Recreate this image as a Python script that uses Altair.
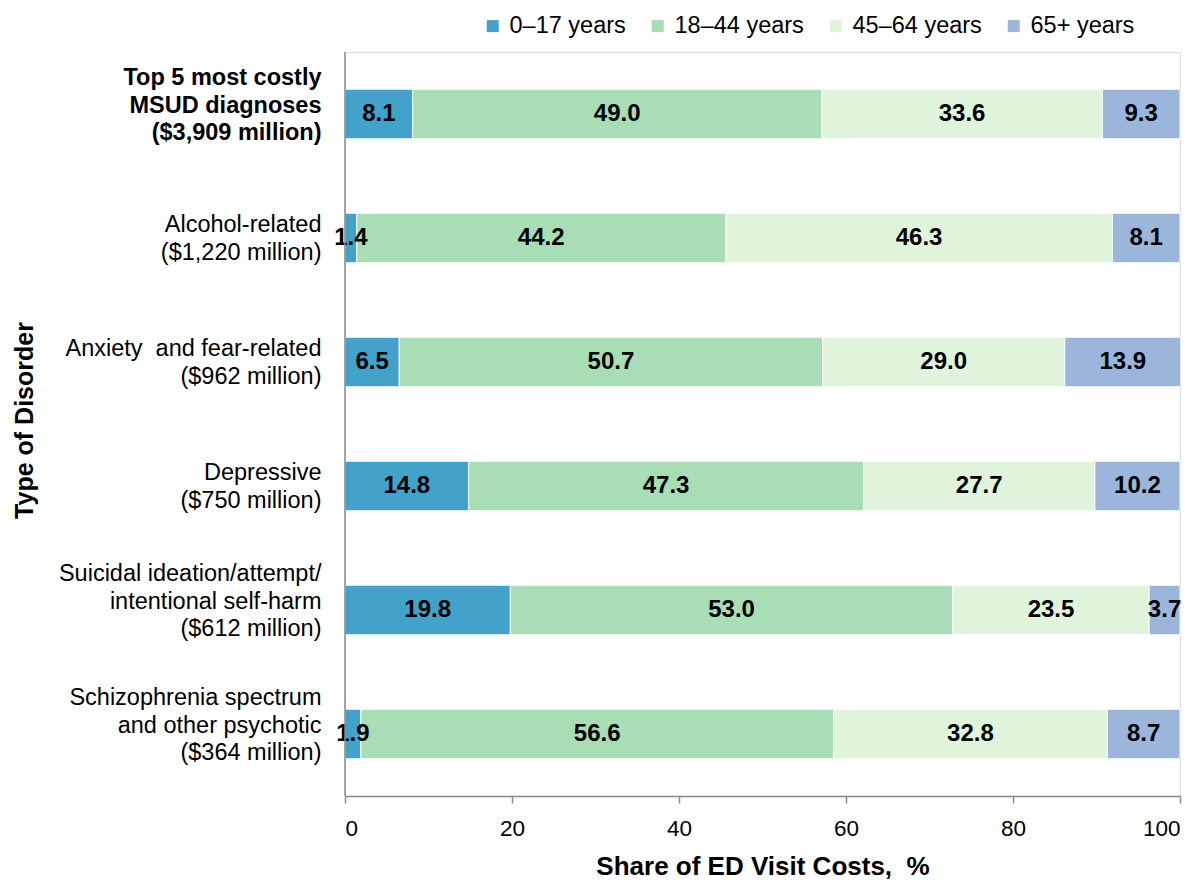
import altair as alt
import pandas as pd

categories = [
    "Top 5 most costly|MSUD diagnoses|($3,909 million)",
    "Alcohol-related|($1,220 million)",
    "Anxiety\u00a0 and fear-related|($962 million)",
    "Depressive|($750 million)",
    "Suicidal ideation/attempt/|intentional self-harm|($612 million)",
    "Schizophrenia spectrum|and other psychotic|($364 million)",
]
age_groups = ["0–17 years", "18–44 years", "45–64 years", "65+ years"]
share_0_17 = [8.1, 1.4, 6.5, 14.8, 19.8, 1.9]
share_18_44 = [49.0, 44.2, 50.7, 47.3, 53.0, 56.6]
share_45_64 = [33.6, 46.3, 29.0, 27.7, 23.5, 32.8]
share_65p = [9.3, 8.1, 13.9, 10.2, 3.7, 8.7]
colors = ["#43A2CA", "#A8DDB5", "#E0F3DB", "#9BB6DA"]
x_ticks = [0, 20, 40, 60, 80, 100]

series = [share_0_17, share_18_44, share_45_64, share_65p]
rows = []
for i, c in enumerate(categories):
    for j, g in enumerate(age_groups):
        rows.append({"cat": c, "group": g, "order": j, "value": series[j][i]})
df = pd.DataFrame(rows)

FONT = "Liberation Sans"
W, H = 835, 744

base = (
    alt.Chart(df)
    .transform_stack(stack="value", as_=["x0", "x1"], groupby=["cat"],
                     sort=[alt.SortField("order", order="ascending")])
    .transform_calculate(mid="(datum.x0 + datum.x1) / 2")
)

yscale = alt.Scale(paddingInner=0.6, paddingOuter=0.3)

bars = base.mark_bar(stroke="white", strokeWidth=1).encode(
    x=alt.X("x0:Q", scale=alt.Scale(domain=[0, 100], nice=False),
            axis=alt.Axis(values=x_ticks, grid=False, domainColor="#888888",
                          domainWidth=1.5, tickColor="#888888", tickWidth=1.5,
                          tickSize=7, labelFontSize=22.5, labelColor="black",
                          labelPadding=14, labelFont=FONT,
                          title="Share of ED Visit Costs,\u00a0 %", titleFontSize=26,
                          titleFontWeight="bold", titleFont=FONT, titleColor="black",
                          titleY=70, titleBaseline="middle")),
    x2="x1:Q",
    y=alt.Y("cat:N", sort=categories, scale=yscale,
            axis=alt.Axis(domain=False, ticks=False, labelExpr="split(datum.value, '|')",
                          labelFontSize=23.5, labelLineHeight=27.5, labelPadding=24,
                          labelLimit=500, labelColor="black", labelFont=FONT,
                          labelFontWeight=alt.ConditionalAxisLabelFontWeight(
                              condition={"test": "indexof(datum.value, 'Top 5') == 0", "value": "bold"},
                              value="normal"),
                          labelOffset={"condition": {"test": "length(split(datum.value, '|')) > 2", "value": -36}, "value": -13},
                          title="Type of Disorder", titleFontSize=25, titleFontWeight="bold",
                          titleFont=FONT, titleColor="black", titleAngle=270,
                          titleX=-321, titleY=368, titleAlign="center", titleBaseline="middle")),
    color=alt.Color("group:N", scale=alt.Scale(domain=age_groups, range=colors),
                    legend=alt.Legend(title=None, orient="none", direction="horizontal",
                                      columns=4, legendX=136, legendY=-38,
                                      symbolType="square", symbolSize=144,
                                      symbolStrokeWidth=0, labelFontSize=23.5,
                                      labelFont=FONT, labelColor="black",
                                      labelOffset=5, columnPadding=20, padding=0)),
    order=alt.Order("order:Q"),
)

labels = base.mark_text(fontWeight="bold", fontSize=24, font=FONT, color="black").encode(
    x="mid:Q",
    y=alt.Y("cat:N", sort=categories),
    text=alt.Text("value:Q", format=".1f"),
)

yline = alt.Chart(pd.DataFrame({"a": [0]})).mark_rule(color="#888888", strokeWidth=1.5).encode(
    x=alt.value(0), y=alt.value(0), y2=alt.value(H)
)

chart = (
    alt.layer(bars, labels, yline)
    .properties(width=W, height=H,
                autosize=alt.AutoSizeParams(type="none"),
                padding={"left": 337, "top": 44, "right": 14, "bottom": 90})
    .configure_view(strokeWidth=0, stroke="transparent")
    .configure(font=FONT)
)

chart.save("out.html", embed_options={"renderer": "svg", "actions": False})
